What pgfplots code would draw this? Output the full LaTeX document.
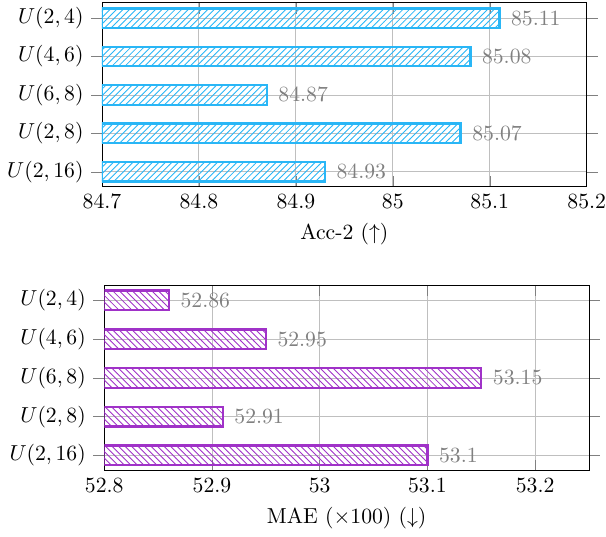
\documentclass[border=0pt]{standalone}
\usepackage{pgfplots}
\pgfplotsset{compat=1.18}
\usetikzlibrary{patterns}
\definecolor{barcyan}{RGB}{41,182,246}
\definecolor{barpurple}{RGB}{160,50,200}
\begin{document}
\begin{tikzpicture}
\pgfplotsset{
  common/.style={
    xbar,
    scale only axis,
    width=223.5pt,
    y dir=reverse,
    ytick={0,1,2,3,4},
    yticklabels={{$U(2,4)$},{$U(4,6)$},{$U(6,8)$},{$U(2,8)$},{$U(2,16)$}},
    ytick align=outside,
    major tick length=5pt,
    grid=major,
    bar width=9pt,
    nodes near coords,
    every node near coord/.append style={gray, xshift=1.5pt},
    xticklabel style={/pgf/number format/fixed, inner xsep=0pt},
  }
}
\begin{axis}[common,
  height=84.7pt,
  xmin=84.7, xmax=85.2,
  xtick={84.7,84.8,84.9,85,85.1,85.2},
  ymin=-0.4, ymax=4.38,
  xlabel={Acc-2 ($\uparrow$)},
]
\addplot[draw=barcyan, line width=1.1pt, pattern=north east lines, pattern color=barcyan]
  coordinates {(85.11,0) (85.08,1) (84.87,2) (85.07,3) (84.93,4)};
\end{axis}
\begin{axis}[common,
  at={(1.06pt,-131pt)},
  height=85.4pt,
  xmin=52.8, xmax=53.25,
  xtick={52.8,52.9,53,53.1,53.2},
  ymin=-0.39, ymax=4.39,
  xlabel={MAE ($\times100$) ($\downarrow$)},
]
\addplot[draw=barpurple, line width=1.1pt, pattern=north west lines, pattern color=barpurple]
  coordinates {(52.86,0) (52.95,1) (53.15,2) (52.91,3) (53.1,4)};
\end{axis}
\end{tikzpicture}
\end{document}
